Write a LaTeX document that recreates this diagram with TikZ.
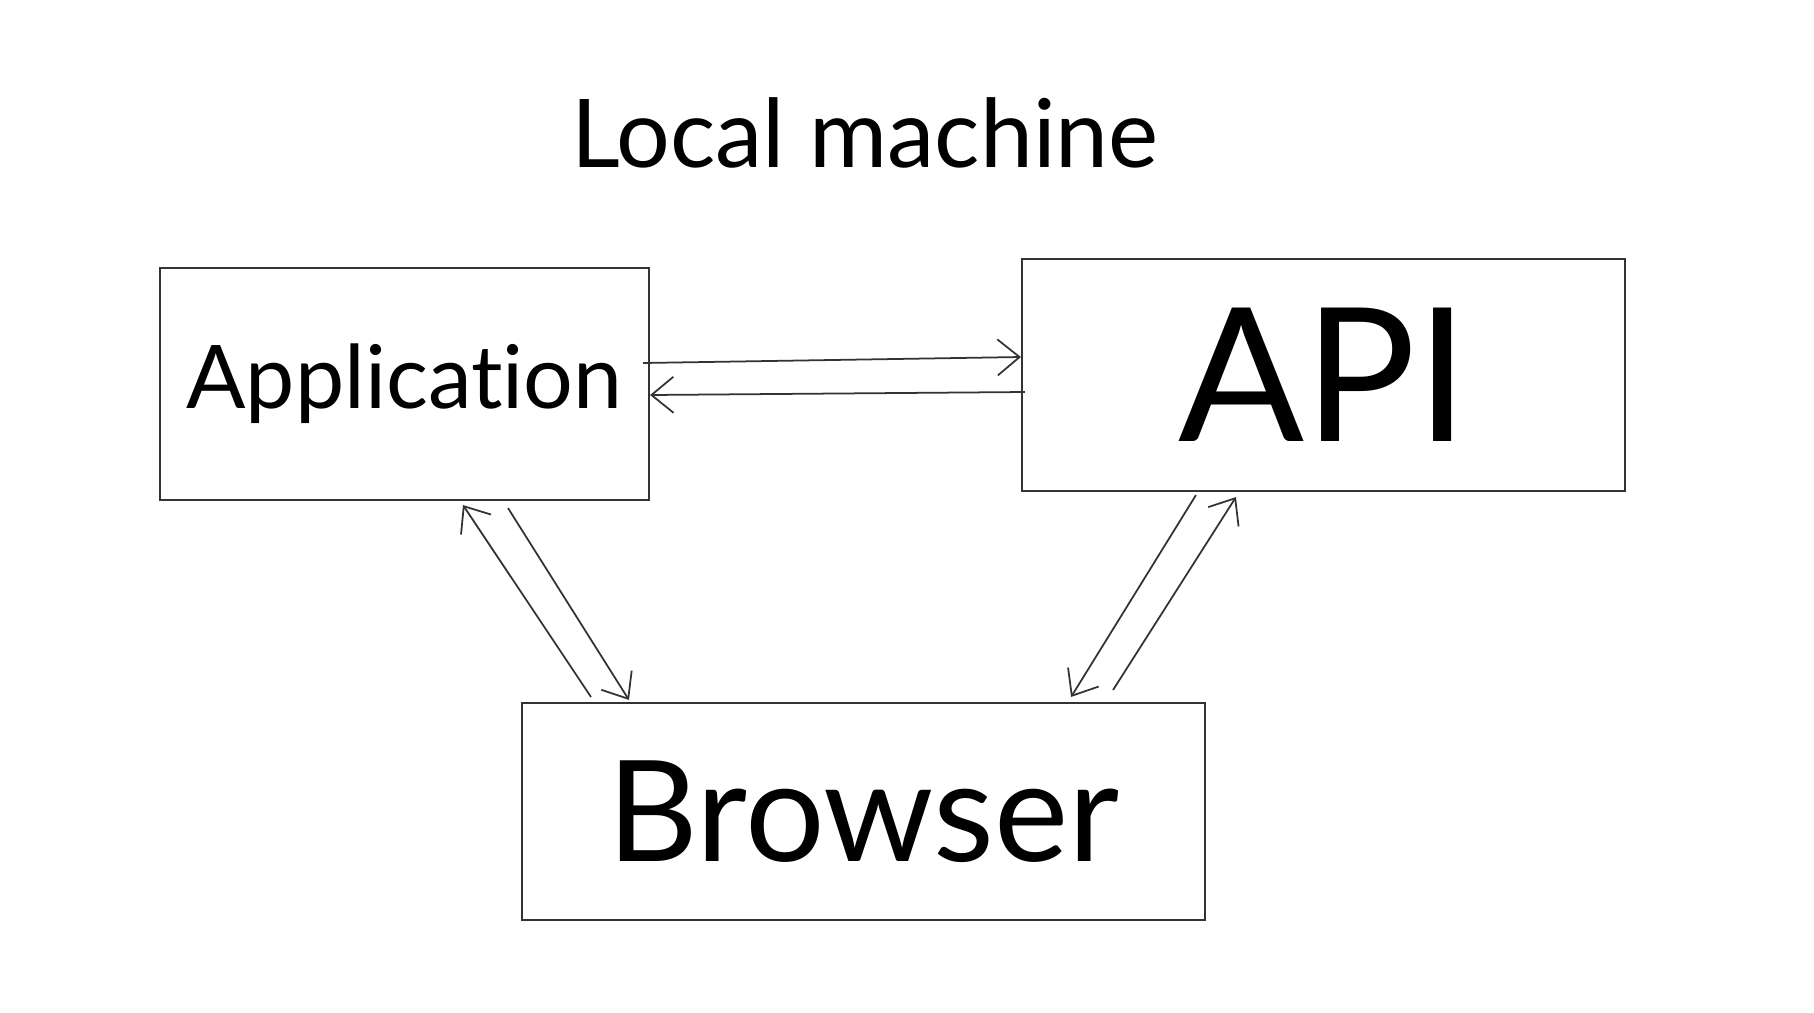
\documentclass[tikz,border=0pt]{standalone}
\usepackage{fontspec}
\setmainfont[Ligatures=NoCommon]{Lato}
\usetikzlibrary{arrows.meta}
\tikzset{%
  box/.style   = {shape=rectangle, draw=black!80, line width=0.6pt,%
                  inner sep=0pt, align=center},%
  title/.style = {font=\fontsize{27}{30}\selectfont},%
  link/.style  = {draw=black!80, line width=0.5pt,%
                  -{Straight Barb[length=2.2mm,width=3.6mm]}}%
}

\begin{document}
\begin{tikzpicture}
	\useasboundingbox (0,0) rectangle (18.14,10.12);
	\node [title] (local) at (8.65,8.79) {Local machine};
	\node [box, minimum width=4.89cm, minimum height=2.32cm,
		font=\fontsize{25}{28}\selectfont] (app) at (4.045,6.28) {Application};
	\node [box, minimum width=6.03cm, minimum height=2.32cm,
		font=\fontsize{53}{56}\selectfont] (api) at (13.235,6.37) {API};
	\node [box, minimum width=6.83cm, minimum height=2.17cm,
		font=\fontsize{40}{44}\selectfont] (browser) at (8.635,2.005) {Browser};
	% application <-> api
	\draw [link] ([xshift=-0.07cm,yshift=0.21cm]app.east) -- ([yshift=0.18cm]api.west);
	\draw [link] ([xshift=0.04cm,yshift=-0.17cm]api.west) -- ([yshift=-0.11cm]app.east);
	% application <-> browser
	\draw [link] ([xshift=1.035cm,yshift=-0.07cm]app.south) -- ([xshift=1.08cm,yshift=0.02cm]browser.north west);
	\draw [link] ([xshift=0.70cm,yshift=0.05cm]browser.north west) -- ([xshift=0.585cm,yshift=-0.04cm]app.south);
	% api <-> browser
	\draw [link] ([xshift=1.75cm,yshift=-0.03cm]api.south west) -- ([xshift=-1.35cm,yshift=0.05cm]browser.north east);
	\draw [link] ([xshift=-0.93cm,yshift=0.12cm]browser.north east) -- ([xshift=2.15cm,yshift=-0.05cm]api.south west);
\end{tikzpicture}
\end{document}
